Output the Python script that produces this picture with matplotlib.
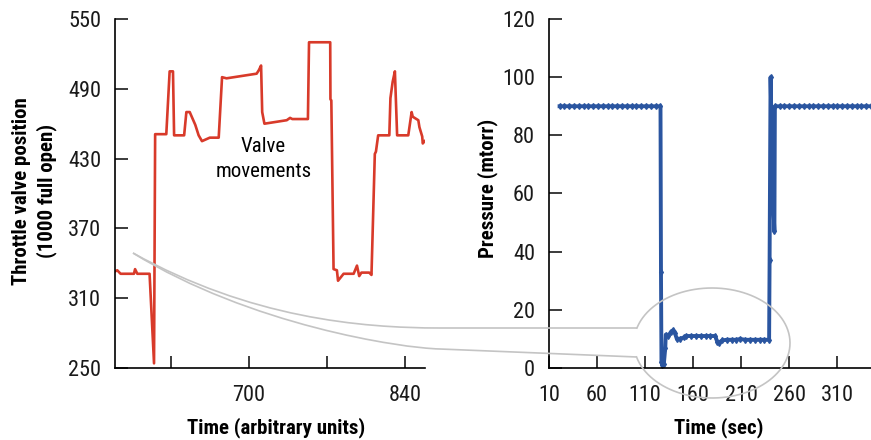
import numpy as np
import matplotlib.pyplot as plt
from matplotlib import font_manager
from matplotlib.path import Path
from matplotlib.patches import PathPatch
from matplotlib.lines import Line2D

installed = {f.name for f in font_manager.fontManager.ttflist}
narrow = [n for n in ['Roboto Condensed', 'Liberation Sans Narrow',
                      'Liberation Sans'] if n in installed]
plt.rcParams['font.family'] = narrow[:1] + ['DejaVu Sans']

# throttle valve trace (left panel)
valve_time = [580, 582, 585, 597, 598, 600, 611, 615, 616, 626, 629, 632, 633,
              642, 644, 647, 652, 655, 658, 665, 673, 676, 680, 707, 709, 711,
              712, 714, 734, 737, 739, 753, 754, 773, 773.2, 774, 776, 779, 780,
              785, 794, 797, 799, 801, 808, 810, 813, 814, 816, 826, 827, 829,
              831, 833, 843, 846, 847, 852, 853, 855.5, 856, 857.6]
valve_pos = [333, 334, 331, 331, 335, 331, 331, 254, 451, 451, 505, 505, 450,
             450, 470, 470, 459, 450, 445, 448, 448, 500, 499, 503, 506, 510,
             470, 460, 463, 465, 464, 464, 530, 530, 481, 480, 335, 334, 325,
             331, 331, 338, 329, 332, 332, 330, 434, 436, 450, 450, 482, 496,
             505, 450, 450, 470, 466, 463, 457, 449, 443, 445]

# chamber pressure trace (right panel)
press_time = [21, 26, 31, 36, 41, 46, 51, 56, 61, 66, 71, 76, 81, 86, 91, 96,
              101, 106, 111, 116, 121, 126, 126.5, 127, 128, 129.5, 131, 131.5,
              134, 137, 139, 141, 143, 146, 150, 153, 158, 163, 168, 173, 178,
              183, 185, 187, 190, 195, 200, 205, 209, 214, 219, 224, 229, 234,
              239, 239.5, 240.5, 243, 244.5, 245, 250, 255, 260, 265, 270, 275,
              280, 285, 290, 295, 300, 305, 310, 315, 320, 325, 330, 335, 340,
              345]
press_val = [90, 90, 90, 90, 90, 90, 90, 90, 90, 90, 90, 90, 90, 90, 90, 90,
             90, 90, 90, 90, 90, 90, 33, 2, 1, 1.5, 7, 11.5,
             11, 12.5, 13, 12, 10, 10, 10.5, 11, 11, 11, 11, 11, 11,
             11, 9, 8.7, 9.5, 9.7, 9.7, 9.7, 10, 9.7, 9.7, 9.7, 9.7, 9.7,
             9.7, 37, 100, 59, 47, 90, 90, 90, 90, 90, 90, 90,
             90, 90, 90, 90, 90, 90, 90, 90, 90, 90, 90, 90, 90,
             90]

red = '#d83a2a'
blue = '#2a55a0'
grey = '#c4c4c4'

W, H = 871, 440
fig = plt.figure(figsize=(W / 100, H / 100), dpi=100)

ax1 = fig.add_axes([115 / W, 1 - 368 / H, (425 - 115) / W, (368 - 19) / H])
ax2 = fig.add_axes([549 / W, 1 - 368 / H, (871 - 549) / W, (368 - 19) / H])

ax1.plot(valve_time, valve_pos, color=red, lw=1.9, solid_joinstyle='round')
ax1.set_xlim(580, 858)
ax1.set_ylim(250, 550)
ax1.set_xticks([630, 700, 770, 840], labels=['', '700', '', '840'])
ax1.set_yticks([250, 310, 370, 430, 490, 550])
ax1.text(713, 440, 'Valve', ha='center', va='center', fontsize=15)
ax1.text(713, 419, 'movements', ha='center', va='center', fontsize=15)

ax2.plot(press_time, press_val, color=blue, lw=2.8, solid_joinstyle='round')
ax2.plot(press_time, press_val, color=blue, ls='none', marker='d',
         markersize=3)
ax2.set_xlim(10, 345)
ax2.set_ylim(0, 120)
ax2.set_xticks([10, 60, 110, 160, 210, 260, 310])
ax2.set_yticks([0, 20, 40, 60, 80, 100, 120])

for ax in (ax1, ax2):
    ax.spines['top'].set_visible(False)
    ax.spines['right'].set_visible(False)
    ax.spines['left'].set_linewidth(1.2)
    ax.spines['bottom'].set_linewidth(1.2)
    ax.tick_params(axis='both', direction='in', length=9, width=1.2,
                   labelsize=16, colors='#1a1a1a')
    ax.tick_params(axis='y', pad=10)
    ax.tick_params(axis='x', pad=12)

fig.text(22 / W, 1 - 191 / H, 'Throttle valve position', rotation=90,
         ha='center', va='center', fontsize=15, fontweight='bold')
fig.text(47 / W, 1 - 191 / H, '(1000 full open)', rotation=90,
         ha='center', va='center', fontsize=15, fontweight='bold')
fig.text(276 / W, 1 - 428 / H, 'Time (arbitrary units)', ha='center',
         va='center', fontsize=15, fontweight='bold')
fig.text(488 / W, 1 - 188 / H, 'Pressure (mtorr)', rotation=90,
         ha='center', va='center', fontsize=15, fontweight='bold')
fig.text(719 / W, 1 - 428 / H, 'Time (sec)', ha='center', va='center',
         fontsize=15, fontweight='bold')


# zoom callout, drawn in figure pixel space
def fig_xy(pts):
    return [(x / W, 1 - y / H) for x, y in pts]


cx, cy, a, b = 712, 343, 78, 55
t = np.radians(np.linspace(194.7, 164.2 + 360, 200))
ell = list(zip(cx + a * np.cos(t), cy - b * np.sin(t)))
ex, ey = zip(*fig_xy(ell))
fig.add_artist(Line2D(ex, ey, color=grey, lw=1.2, transform=fig.transFigure))

codes = [Path.MOVETO, Path.CURVE4, Path.CURVE4, Path.CURVE4, Path.LINETO]
upper = fig_xy([(133, 253), (250, 318), (360, 328), (440, 328), (637, 328)])
lower = fig_xy([(133, 253), (250, 325), (400, 348), (440, 349), (637, 357)])
for pts in (upper, lower):
    fig.add_artist(PathPatch(Path(pts, codes), fill=False, edgecolor=grey,
                             lw=1.2, transform=fig.transFigure))

fig.savefig('out.png', dpi=100)
